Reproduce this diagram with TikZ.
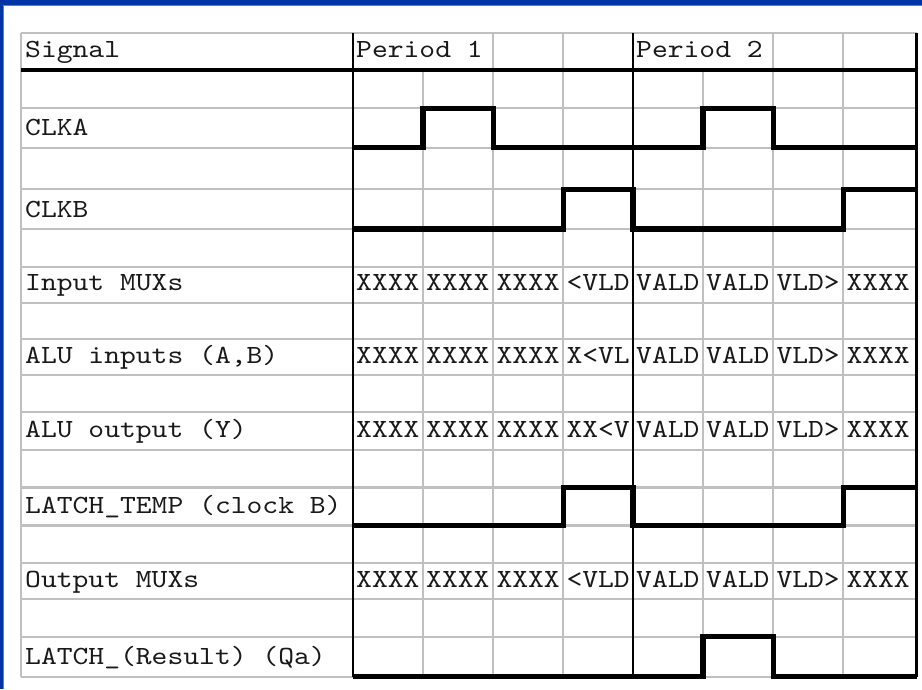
\documentclass[tikz,border=0pt]{standalone}
\usepackage{fontspec}
\setmonofont[FakeStretch=1.15]{lmmono10-regular.otf}
\definecolor{gridgray}{HTML}{C0C0C0}
\definecolor{frameblue}{HTML}{0035A5}
\definecolor{frameedge}{HTML}{5C7FC4}
\tikzset{
  gridline/.style={draw=gridgray, line width=2.2pt},
  rule/.style={draw=black, line width=2.6pt},
  headrule/.style={draw=black, line width=3.8pt},
  wave/.style={draw=black, line width=5.4pt, line join=miter},
  cell/.style={anchor=base west, inner sep=0pt, font=\ttfamily\fontsize{26.2}{30}\selectfont, text=black!90},
}
\begin{document}
\begin{tikzpicture}[x=1pt,y=-1pt]
\useasboundingbox (0,0) rectangle (922,689);
\fill[white] (0,0) rectangle (922,689);
% frame
\fill[frameblue] (0,0) rectangle (922,5);
\fill[frameblue] (0,0) rectangle (3.3,689);
\draw[frameedge, line width=0.8pt] (3.3,5.4) -- (922,5.4);
\draw[frameedge, line width=0.8pt] (3.7,5.4) -- (3.7,689);
% row lines
\def\Ra{33}\def\Rb{70}\def\Rc{108.3}\def\Rd{147.7}\def\Re{189.3}\def\Rf{229}
\def\Rg{266.7}\def\Rh{302.7}\def\Ri{339.3}\def\Rj{375}\def\Rk{411.7}\def\Rl{449.6}
\def\Rm{487.5}\def\Rn{525.4}\def\Ro{563.3}\def\Rp{599.3}\def\Rq{636.7}\def\Rr{676.7}
\def\L{21}\def\Rt{916.5}
% gray horizontal grid
\foreach \y in {\Ra,\Rc,\Rd,\Re,\Rf,\Rg,\Rh,\Ri,\Rj,\Rk,\Rl,\Rm,\Rn,\Ro,\Rp,\Rq,\Rr}
  \draw[gridline] (\L,\y) -- (\Rt,\y);
% gray vertical grid
\draw[gridline] (\L,\Ra) -- (\L,\Rr);
\foreach \x in {423,703}
  \draw[gridline] (\x,\Rb) -- (\x,\Rr);
\foreach \x in {493.3,563.3,773.3,843.3}
  \draw[gridline] (\x,\Ra) -- (\x,\Rr);
% black rules
\foreach \x in {353,633,\Rt}
  \draw[rule] (\x,\Ra) -- (\x,\Rr);
\draw[headrule] (\L,\Rb) -- (\Rt,\Rb);
% labels
\node[cell] (hsig) at (25,57.3) {Signal};
\node[cell] (hp1) at (356,57.3) {Period 1};
\node[cell] (hp2) at (636,57.3) {Period 2};
\node[cell] (lclka) at (25,\Rd-12) {CLKA};
\node[cell] (lclkb) at (25,\Rf-12) {CLKB};
\node[cell] (linmux) at (25,\Rh-12) {Input MUXs};
\node[cell] (laluin) at (25,\Rj-12) {ALU inputs (A,B)};
\node[cell] (laluout) at (25,\Rl-12) {ALU output (Y)};
\node[cell] (ltemp) at (25,\Rn-12) {LATCH\_TEMP (clock B)};
\node[cell] (loutmux) at (25,\Rp-12) {Output MUXs};
\node[cell] (lres) at (25,\Rr-12) {LATCH\_(Result) (Qa)};
% value cells
\foreach \t/\x [count=\i] in {XXXX/353,XXXX/423,XXXX/493.3,<VLD/563.3,VALD/633,VALD/703,VLD>/773.3,XXXX/843.3}
  \node[cell] (inmux\i) at (\x+3,\Rh-12) {\t};
\foreach \t/\x [count=\i] in {XXXX/353,XXXX/423,XXXX/493.3,X<VL/563.3,VALD/633,VALD/703,VLD>/773.3,XXXX/843.3}
  \node[cell] (aluin\i) at (\x+3,\Rj-12) {\t};
\foreach \t/\x [count=\i] in {XXXX/353,XXXX/423,XXXX/493.3,XX<V/563.3,VALD/633,VALD/703,VLD>/773.3,XXXX/843.3}
  \node[cell] (aluout\i) at (\x+3,\Rl-12) {\t};
\foreach \t/\x [count=\i] in {XXXX/353,XXXX/423,XXXX/493.3,<VLD/563.3,VALD/633,VALD/703,VLD>/773.3,XXXX/843.3}
  \node[cell] (outmux\i) at (\x+3,\Rp-12) {\t};
% waveforms
\draw[wave] (353,\Rd) -- (423,\Rd) -- (423,\Rc) -- (493.3,\Rc) -- (493.3,\Rd) -- (703,\Rd) -- (703,\Rc) -- (773.3,\Rc) -- (773.3,\Rd) -- (\Rt,\Rd);
\draw[wave] (353,\Rf) -- (563.3,\Rf) -- (563.3,\Re) -- (633,\Re) -- (633,\Rf) -- (843.3,\Rf) -- (843.3,\Re) -- (\Rt,\Re);
\draw[wave] (353,\Rn) -- (563.3,\Rn) -- (563.3,\Rm) -- (633,\Rm) -- (633,\Rn) -- (843.3,\Rn) -- (843.3,\Rm) -- (\Rt,\Rm);
\draw[wave] (353,\Rr) -- (703,\Rr) -- (703,\Rq) -- (773.3,\Rq) -- (773.3,\Rr) -- (\Rt,\Rr);
\end{tikzpicture}
\end{document}
